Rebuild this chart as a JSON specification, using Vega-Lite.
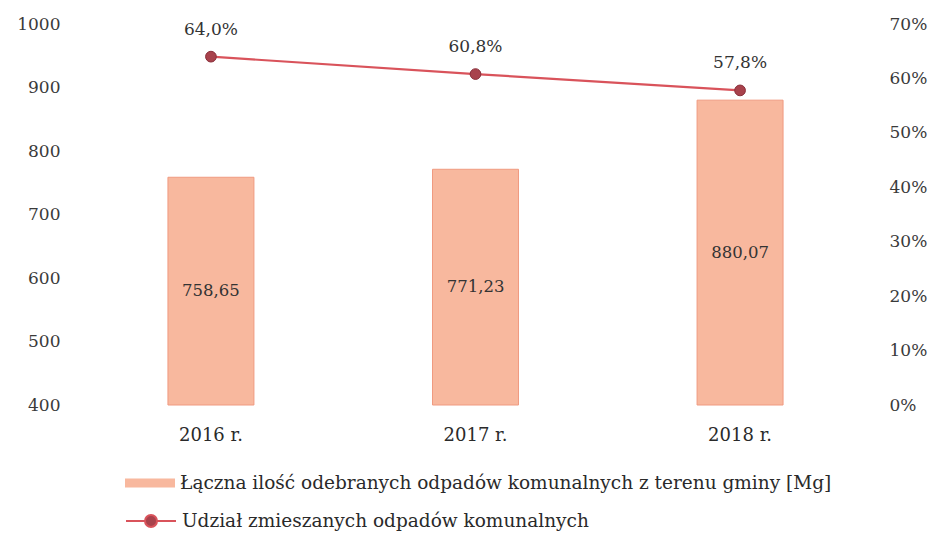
{
  "$schema": "https://vega.github.io/schema/vega-lite/v6.json",
  "autosize": {"type": "none"},
  "width": 795,
  "height": 381,
  "padding": {"left": 78, "top": 24, "right": 61, "bottom": 130},
  "background": "white",
  "config": {
    "locale": {"number": {"decimal": ",", "thousands": " ", "grouping": [3], "currency": ["", " zł"]}},
    "font": "DejaVu Serif",
    "view": {"stroke": null},
    "axis": {"labelFont": "DejaVu Serif", "labelFontSize": 17, "labelColor": "#3a3a3a", "domain": false, "ticks": false, "grid": false, "title": null},
    "legend": {"labelFont": "DejaVu Serif", "labelFontSize": 18.5, "labelColor": "#2a2a2a", "title": null, "labelLimit": 900}
  },
  "data": {"values": [
    {"year": "2016 r.", "total": 758.65, "pct": 0.640},
    {"year": "2017 r.", "total": 771.23, "pct": 0.608},
    {"year": "2018 r.", "total": 880.07, "pct": 0.578}
  ]},
  "encoding": {
    "x": {"field": "year", "type": "nominal", "sort": null, "scale": {"paddingInner": 0.675, "paddingOuter": 0.34},
      "axis": {"labelAngle": 0, "labelPadding": 21, "labelFontSize": 18, "labelColor": "#2a2a2a"}}
  },
  "layer": [
    {
      "layer": [
        {
          "mark": {"type": "bar", "stroke": "#f09a80", "strokeWidth": 1},
          "encoding": {
            "y": {"field": "total", "type": "quantitative", "scale": {"domain": [400, 1000], "zero": false, "nice": false},
              "axis": {"values": [400, 500, 600, 700, 800, 900, 1000], "format": "d", "labelPadding": 18, "orient": "left"}},
            "y2": {"datum": 400},
            "fill": {"datum": "Łączna ilość odebranych odpadów komunalnych z terenu gminy [Mg]", "type": "nominal",
              "scale": {"range": ["#f8b89e"]},
              "legend": {"orient": "none", "legendX": 47, "legendY": 434, "symbolType": "M-1,-0.18H1V0.18H-1Z", "symbolSize": 2500, "symbolStrokeWidth": 0, "labelOffset": 5}}
          }
        },
        {
          "transform": [{"calculate": "(datum.total + 400) / 2", "as": "mid"}],
          "mark": {"type": "text", "fontSize": 16.5, "color": "#333333", "baseline": "middle"},
          "encoding": {
            "y": {"field": "mid", "type": "quantitative", "scale": {"domain": [400, 1000], "zero": false, "nice": false}},
            "text": {"field": "total", "type": "quantitative", "format": ".2f"}
          }
        }
      ]
    },
    {
      "layer": [
        {
          "mark": {"type": "line", "strokeWidth": 2.2},
          "encoding": {
            "y": {"field": "pct", "type": "quantitative", "scale": {"domain": [0, 0.7], "nice": false},
              "axis": {"orient": "right", "values": [0, 0.1, 0.2, 0.3, 0.4, 0.5, 0.6, 0.7], "format": ".0%", "labelPadding": 16, "labelAlign": "left"}},
            "stroke": {"datum": "Udział zmieszanych odpadów komunalnych", "type": "nominal",
              "scale": {"range": ["#d9535b"]},
              "legend": {"orient": "none", "legendX": 47, "legendY": 471, "symbolType": "M-1,0H-0.24M0.24,0H1M0.24,0A0.24,0.24 0 1,1 -0.24,0A0.24,0.24 0 1,1 0.24,0Z", "symbolSize": 2500, "symbolStrokeWidth": 2, "symbolFillColor": "#a8424c", "labelOffset": 5}}
          }
        },
        {
          "mark": {"type": "point", "filled": true, "size": 115, "color": "#a8424c", "stroke": "#8a2f3a", "strokeWidth": 1, "opacity": 1},
          "encoding": {
            "y": {"field": "pct", "type": "quantitative", "scale": {"domain": [0, 0.7], "nice": false}}
          }
        },
        {
          "mark": {"type": "text", "fontSize": 17, "color": "#333333", "dy": -27, "baseline": "middle"},
          "encoding": {
            "y": {"field": "pct", "type": "quantitative", "scale": {"domain": [0, 0.7], "nice": false}},
            "text": {"field": "pct", "type": "quantitative", "format": ".1%"}
          }
        }
      ]
    }
  ],
  "resolve": {"scale": {"y": "independent"}}
}
